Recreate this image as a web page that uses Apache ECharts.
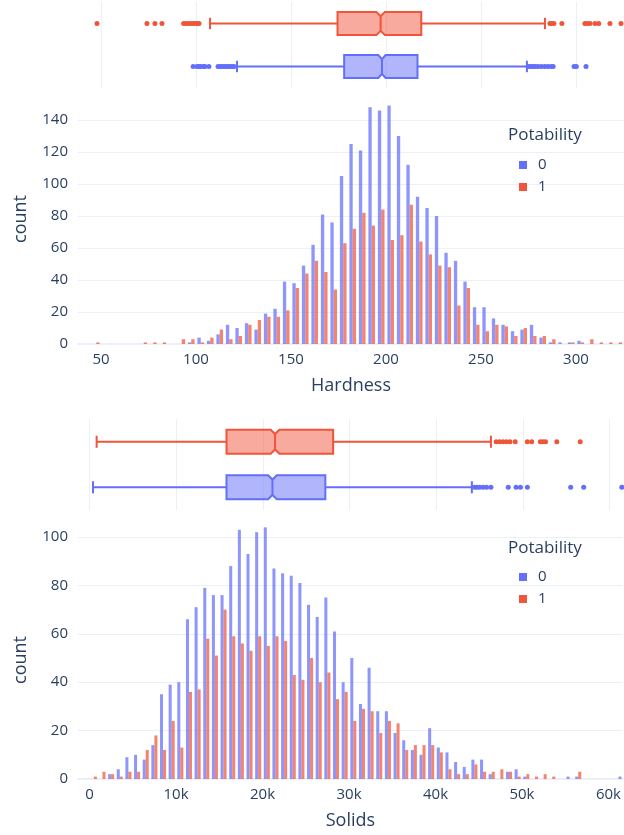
<!DOCTYPE html>
<html><head><meta charset="utf-8">
<script src="https://cdn.jsdelivr.net/npm/echarts@6/dist/echarts.min.js"></script>
<style>html,body{margin:0;padding:0;background:#fff}#c{width:624px;height:835px}</style>
</head><body><div id="c"></div>
<script>
// ---------- Hardness ----------
const HARD_BIN_START = 45, HARD_BIN_SIZE = 5;
const hardCount0 = [0,0,0,0,0,0,0,0,0,0,1,4,2,6,12,10,13,9,19,22,39,38,49,62,81,76,105,125,121,148,146,149,130,112,92,85,80,57,52,39,23,23,16,12,8,9,12,4,1,1,1,2,0,0,0,0];
const hardCount1 = [1,0,0,0,0,1,1,1,0,3,3,1,4,9,3,5,12,15,17,17,21,35,44,52,45,34,63,72,82,74,84,65,68,87,64,56,49,48,24,35,12,8,12,11,5,10,5,5,3,0,1,1,3,1,1,1];
// box stats: [lowerWhisker, q1, notchLow, median, notchHigh, q3, upperWhisker]
const hardBox0 = [121.6, 178.0, 196.0, 197.9, 199.8, 216.6, 274.2];
const hardBox1 = [107.4, 174.5, 195.0, 197.2, 199.4, 218.6, 283.7];
const hardOut0 = [98.5,100.5,101.6,102.5,104.0,104.7,106.8,111.6,112.7,113.7,114.8,115.8,116.9,117.9,119.0,120.0,275.3,276.4,277.5,278.6,280.0,281.7,283.5,285.2,286.9,288.0,299.0,300.2,305.3];
const hardOut1 = [47.9,74.2,78.4,82.1,93.5,94.7,96.0,97.4,98.5,99.5,100.8,101.6,286.3,287.2,288.4,292.6,304.7,306.0,307.4,310.0,312.0,317.9,323.7];
const HARD_MIN = 37.9, HARD_MAX = 325.3, HARD_YMAX = 156.25;

// ---------- Solids ----------
const SOL_BIN_START = 0, SOL_BIN_SIZE = 1000;
const solCount0 = [0,0,2,4,9,10,8,14,35,39,40,66,71,79,76,76,88,103,93,102,104,87,85,84,81,72,67,75,61,40,50,31,46,28,28,19,16,12,10,21,13,11,7,5,8,8,2,0,3,4,1,0,0,0,0,1,1,0,0,0,0,1];
const solCount1 = [1,3,2,1,3,3,12,18,12,24,13,36,37,58,51,70,59,56,53,59,55,59,57,43,41,50,40,44,33,36,24,29,28,19,24,23,12,14,14,14,11,4,2,2,6,3,3,4,3,1,2,1,2,1,0,0,3,0,0,0,0,0];
const solBox0 = [400, 15800, 20600, 21100, 21600, 27200, 44100];
const solBox1 = [820, 15800, 20900, 21400, 21900, 28100, 46300];
const solOut0 = [44400,44700,45000,45400,45800,46300,48300,49200,49700,50500,55500,57000,61400];
const solOut1 = [46900,47300,47700,48100,48500,49100,50500,51000,52000,52300,52600,53900,56600];
const SOL_MIN = -1330, SOL_MAX = 61650, SOL_YMAX = 109.1;

const groups = ['0', '1'];
const C0 = '#636efa', C1 = '#EF553B';
const F0 = 'rgba(99,110,250,0.5)', F1 = 'rgba(239,85,59,0.5)';
const TXT = '#2a3f5f', GRID = '#EBF0F8', FONT = 'Open Sans';

function histRender(binSize, f0, f1, color) {
  return function (params, api) {
    const s = api.value(0), n = api.value(1);
    if (!n) return null;
    const p0 = api.coord([s + f0 * binSize, n]);
    const p1 = api.coord([s + f1 * binSize, 0]);
    return { type: 'rect', shape: { x: p0[0], y: p0[1], width: p1[0] - p0[0], height: p1[1] - p0[1] },
      style: { fill: color, opacity: 0.72 } };
  };
}
function boxRender(color, fill) {
  return function (params, api) {
    const cat = api.value(0);
    const v = i => api.value(i);
    const lw = v(1), q1 = v(2), nl = v(3), med = v(4), nh = v(5), q3 = v(6), uw = v(7);
    const X = val => api.coord([val, cat])[0];
    const yc = api.coord([med, cat])[1];
    const band = api.size([0, 1])[1];
    const hh = band * 0.265, nd = hh * 0.36, cap = hh * 0.5;
    const top = yc - hh, bot = yc + hh;
    const pts = [[X(q1), top], [X(nl), top], [X(med), top + nd], [X(nh), top], [X(q3), top],
      [X(q3), bot], [X(nh), bot], [X(med), bot - nd], [X(nl), bot], [X(q1), bot]];
    const ls = { stroke: color, lineWidth: 2 };
    return { type: 'group', children: [
      { type: 'line', shape: { x1: X(lw), y1: yc, x2: X(q1), y2: yc }, style: ls },
      { type: 'line', shape: { x1: X(q3), y1: yc, x2: X(uw), y2: yc }, style: ls },
      { type: 'line', shape: { x1: X(lw), y1: yc - cap, x2: X(lw), y2: yc + cap }, style: ls },
      { type: 'line', shape: { x1: X(uw), y1: yc - cap, x2: X(uw), y2: yc + cap }, style: ls },
      { type: 'polygon', shape: { points: pts }, style: { fill: fill, stroke: color, lineWidth: 2 } },
      { type: 'line', shape: { x1: X(med), y1: top + nd, x2: X(med), y2: bot - nd }, style: ls }
    ] };
  };
}

const axLabel = { color: TXT, fontSize: 15, fontFamily: FONT };
const solFmt = v => v === 0 ? '0' : (v / 1000) + 'k';

function boxX(grid, min, max) {
  return { type: 'value', gridIndex: grid, min: min, max: max, splitNumber: 5,
    axisLabel: { show: false }, axisLine: { show: false }, axisTick: { show: false },
    splitLine: { show: true, showMinLine: false, showMaxLine: false, lineStyle: { color: GRID, width: 1 } } };
}
function histX(grid, min, max, name, fmt) {
  return { type: 'value', gridIndex: grid, min: min, max: max, splitNumber: 5,
    name: name, nameLocation: 'middle', nameGap: 33,
    nameTextStyle: { color: TXT, fontSize: 18, fontFamily: FONT },
    axisLabel: Object.assign({ margin: 8, showMinLabel: false, showMaxLabel: false, formatter: fmt }, axLabel),
    axisLine: { show: true, lineStyle: { color: GRID, width: 2 } }, axisTick: { show: false },
    splitLine: { show: false } };
}
function histY(grid, max, namePad) {
  return { type: 'value', gridIndex: grid, min: 0, max: max, interval: 20,
    name: 'count', nameLocation: 'middle', nameGap: 48,
    nameTextStyle: { color: TXT, fontSize: 18, fontFamily: FONT, padding: namePad },
    axisLabel: Object.assign({ margin: 10, showMaxLabel: false }, axLabel),
    axisLine: { show: false }, axisTick: { show: false },
    splitLine: { show: true, showMaxLine: false, lineStyle: { color: GRID, width: 1 } } };
}
function boxY(grid) {
  return { type: 'category', gridIndex: grid, data: groups, show: false };
}
function histSeries(name, xi, counts, start, size, f0, f1, color) {
  return { type: 'custom', name: name, xAxisIndex: xi, yAxisIndex: xi, clip: true,
    itemStyle: { color: color },
    data: counts.map((n, i) => [start + i * size, n]),
    renderItem: histRender(size, f0, f1, color) };
}
function boxSeries(xi, cat, stats, color, fill) {
  return { type: 'custom', xAxisIndex: xi, yAxisIndex: xi, silent: true,
    data: [[cat].concat(stats)], renderItem: boxRender(color, fill) };
}
function outSeries(xi, cat, vals, color) {
  return { type: 'scatter', xAxisIndex: xi, yAxisIndex: xi, symbolSize: 5, silent: true,
    itemStyle: { color: color, opacity: 1 }, data: vals.map(v => [v, cat]) };
}
function legendFor(top) {
  return { orient: 'vertical', left: 514, top: top, data: groups, icon: 'rect',
    itemWidth: 8, itemHeight: 8, itemGap: 4, selectedMode: false,
    textStyle: { color: TXT, fontSize: 15, fontFamily: FONT, lineHeight: 18, padding: [0, 0, 0, 6] } };
}
function titleFor(top) {
  return { text: 'Potability', left: 508, top: top, padding: 0,
    textStyle: { color: TXT, fontSize: 17, fontWeight: 'normal', fontFamily: FONT } };
}

const chart = echarts.init(document.getElementById('c'), null, { renderer: 'canvas' });
chart.setOption({
  backgroundColor: '#fff',
  animation: false,
  textStyle: { fontFamily: FONT },
  title: [titleFor(127), titleFor(540)],
  legend: [legendFor(151), legendFor(563)],
  grid: [
    { left: 78, right: 0, top: 2, height: 86 },
    { left: 78, right: 0, top: 94, height: 250 },
    { left: 78, right: 0, top: 419, height: 91 },
    { left: 78, right: 0, top: 515, height: 264 }
  ],
  xAxis: [
    boxX(0, HARD_MIN, HARD_MAX),
    histX(1, HARD_MIN, HARD_MAX, 'Hardness', null),
    boxX(2, SOL_MIN, SOL_MAX),
    histX(3, SOL_MIN, SOL_MAX, 'Solids', solFmt)
  ],
  yAxis: [boxY(0), histY(1, HARD_YMAX, [0, 0, 0, 0]), boxY(2), histY(3, SOL_YMAX, [0, 26, 0, 0])],
  series: [
    histSeries('0', 1, hardCount0, HARD_BIN_START, HARD_BIN_SIZE, 0.15, 0.5, C0),
    histSeries('1', 1, hardCount1, HARD_BIN_START, HARD_BIN_SIZE, 0.5, 0.85, C1),
    histSeries('0', 3, solCount0, SOL_BIN_START, SOL_BIN_SIZE, 0.15, 0.5, C0),
    histSeries('1', 3, solCount1, SOL_BIN_START, SOL_BIN_SIZE, 0.5, 0.85, C1),
    boxSeries(0, 0, hardBox0, C0, F0),
    boxSeries(0, 1, hardBox1, C1, F1),
    outSeries(0, 0, hardOut0, C0),
    outSeries(0, 1, hardOut1, C1),
    boxSeries(2, 0, solBox0, C0, F0),
    boxSeries(2, 1, solBox1, C1, F1),
    outSeries(2, 0, solOut0, C0),
    outSeries(2, 1, solOut1, C1)
  ]
});
</script></body></html>
